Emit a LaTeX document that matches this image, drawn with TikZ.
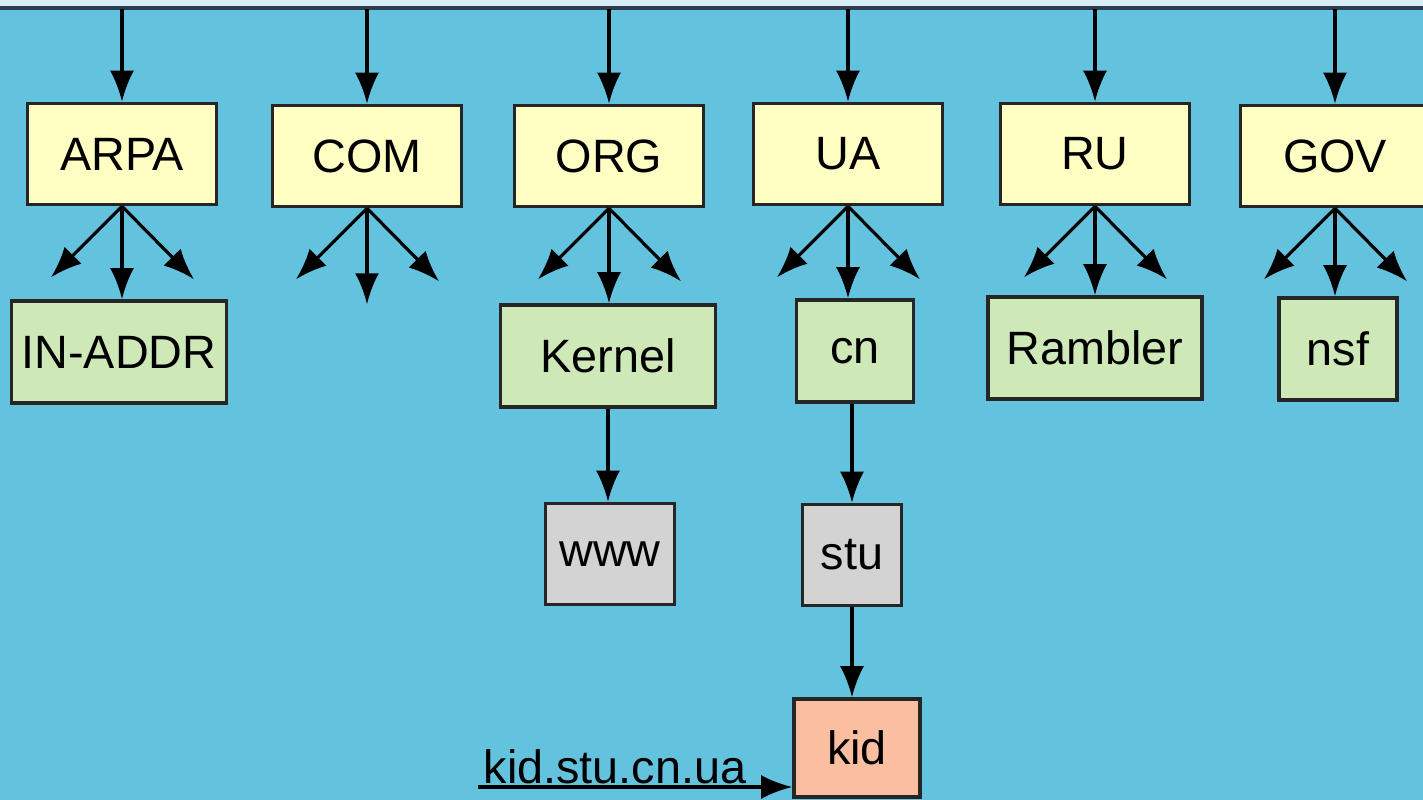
\documentclass[tikz,border=0pt]{standalone}
\usepackage{fontspec}
\setmainfont{Liberation Sans}
\usetikzlibrary{arrows.meta,calc,positioning}
\definecolor{sea}{RGB}{99,195,223}
\definecolor{strip}{RGB}{215,236,244}
\definecolor{rim}{RGB}{45,60,80}
\definecolor{zoneyellow}{RGB}{255,255,196}
\definecolor{zonegreen}{RGB}{206,232,184}
\definecolor{zonegray}{RGB}{211,211,211}
\definecolor{zonesalmon}{RGB}{252,190,160}

\begin{document}
\begin{tikzpicture}[x=0.01cm,y=-0.01cm,
  zone/.style={draw=black!85,line width=1pt,inner sep=0pt,font=\fontsize{13.3}{15}\selectfont},
  tldbox/.style={zone,fill=zoneyellow,minimum width=1.89cm,minimum height=1.01cm},
  subbox/.style={zone,fill=zonegreen,minimum height=1.02cm},
  hostbox/.style={zone,fill=zonegray,minimum height=1.01cm},
  link/.style={line width=0.9pt,-{Latex[length=3.1mm,width=2.4mm]}}]
\clip (0,0) rectangle (1423,800);
\fill[sea] (0,0) rectangle (1423,800);
\fill[strip] (0,0) rectangle (1423,6);
\draw[rim,line width=1.1pt] (0,8) -- (1423,8);

% top level domains
\node[tldbox] (arpa) at (122,154) {ARPA};
\node[tldbox] (com) at (367,156) {COM};
\node[tldbox] (org) at (609,156) {ORG};
\node[tldbox] (ua) at (848,154) {UA};
\node[tldbox] (ru) at (1095,154) {RU};
\node[tldbox] (gov) at (1335,156) {GOV};

% second level
\node[subbox,minimum width=2.15cm] (inaddr) at (119,352) {IN-ADDR};
\node[subbox,minimum width=2.15cm] (kernel) at (608,356) {Kernel};
\node[subbox,minimum width=1.17cm] (cn) at (855,351) {cn};
\node[subbox,minimum width=2.14cm] (rambler) at (1095,348) {Rambler};
\node[subbox,minimum width=1.18cm] (nsf) at (1338,349) {nsf};

% hosts
\node[hostbox,minimum width=1.29cm] (www) at (610,554) {www};
\node[hostbox,minimum width=0.99cm] (stu) at (852,555) {stu};
\node[zone,fill=zonesalmon,minimum width=1.26cm,minimum height=0.98cm] (kid) at (857,748) {kid};

\foreach \n in {arpa,com,org,ua,ru,gov}{
  \coordinate (\n-l) at ($(\n.south)+(-71,71)$);
  \coordinate (\n-r) at ($(\n.south)+(72,73)$);
  \draw[link] (\n.north |- 0,9) -- (\n.north);
  \draw[link] (\n.south) -- (\n-l);
  \draw[link] (\n.south) -- (\n-r);
}
\coordinate (com-m) at ($(com.south)+(0,96)$);
\draw[link] (com.south) -- (com-m);
\foreach \a/\b in {arpa/inaddr,org/kernel,ua/cn,ru/rambler,gov/nsf}
  \draw[link] (\a.south) -- (\a.south |- \b.north);

\draw[link] (kernel.south) -- (kernel.south |- www.north);
\draw[link] (cn.south -| stu.north) -- (stu.north);
\draw[link] (stu.south) -- (stu.south |- kid.north);

% full name
\coordinate (addr) at (478,787);
\node[anchor=base west,inner sep=0pt,font=\fontsize{13.3}{15}\selectfont] (addrtext) at (483,783) {kid.stu.cn.ua};
\draw[link] (addr) -- (addr -| kid.west);
\end{tikzpicture}
\end{document}
